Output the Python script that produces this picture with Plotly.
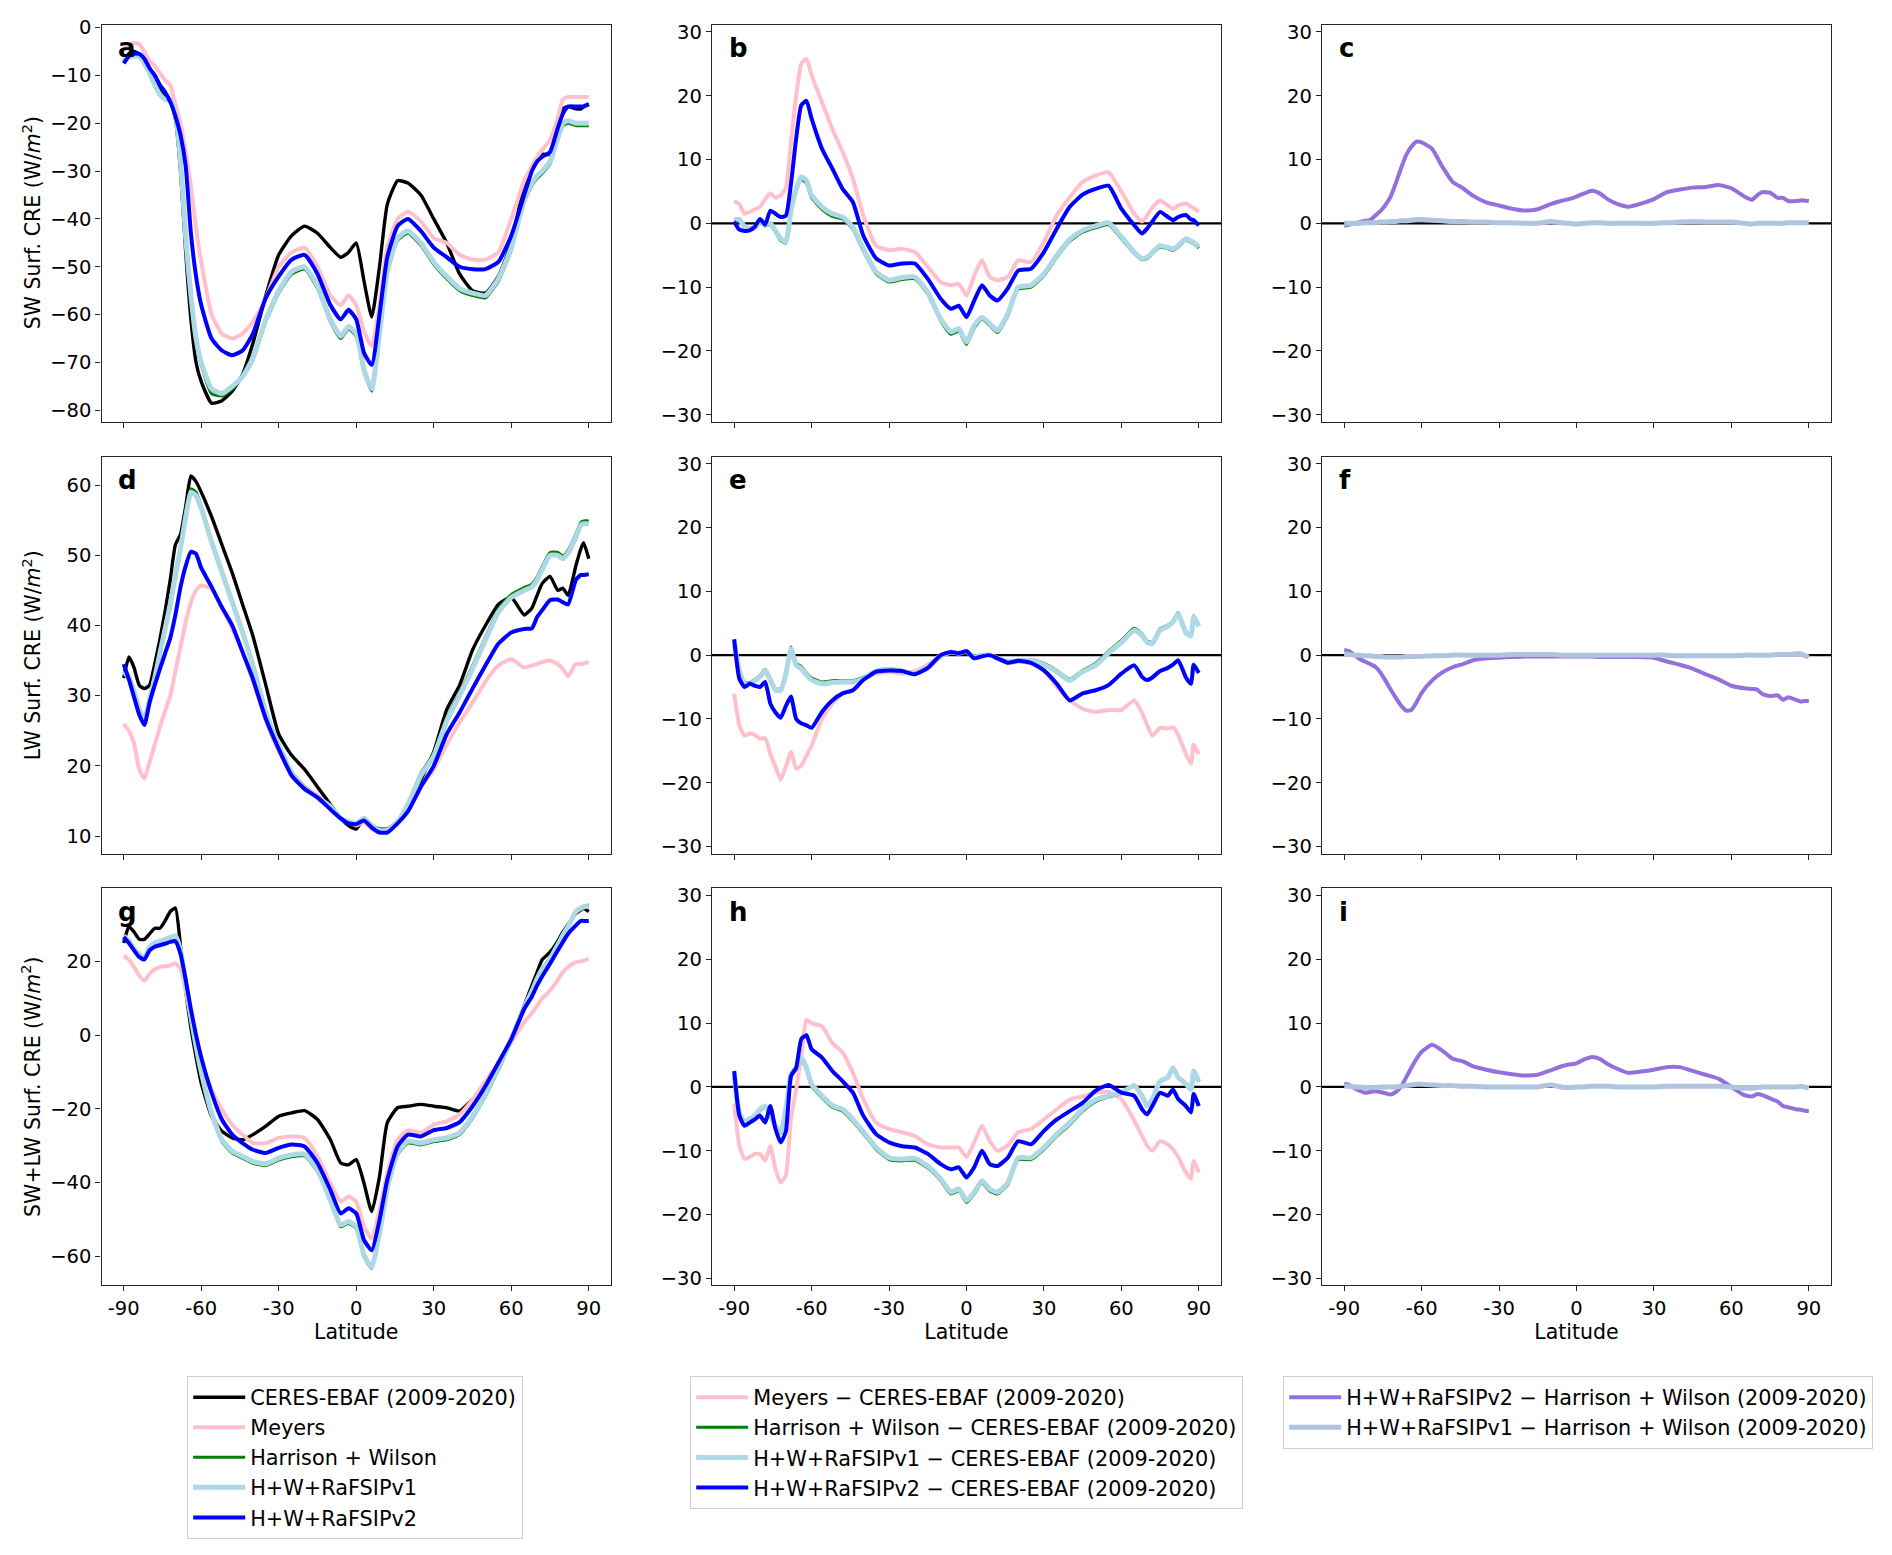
import plotly.graph_objects as go

# ---------------- data ----------------
LAT = [-90, -88, -86, -84, -82, -80, -78, -76, -74, -72,
       -70, -68, -66, -64, -62, -60, -56, -52, -48, -44,
       -40, -35, -30, -25, -20, -15, -10, -6, -3, 0,
       3, 6, 9, 12, 16, 20, 25, 30, 35, 40,
       45, 50, 55, 60, 65, 68, 70, 72, 75, 78,
       80, 82, 85, 87, 88, 90]

# panel a: SW surface CRE
SW_CERES = [-7, -5.5, -5, -5.5, -7, -8.5, -11, -13, -14, -15,
            -19, -30, -47, -61, -70, -74, -78.5, -78, -76, -72.5,
            -66, -56, -47.5, -43.5, -41.5, -43, -46, -48, -47, -45,
            -53, -60.5, -50, -37, -32, -32.5, -35, -40, -45, -51.5,
            -55, -55.5, -52, -45, -33, -29, -27.5, -26.5, -26.5, -20,
            -17, -16.5, -17, -17, -16.5, -16]
SW_MEYERS = [-4, -3.5, -3.3, -3.5, -5, -7, -8, -9.5, -11, -12,
             -16, -20, -26, -33, -42, -49, -60, -64, -65, -64,
             -61.5, -56.5, -50, -47, -46, -50, -56, -58, -56, -58,
             -63.5, -66.5, -58, -46, -40, -38.5, -40.5, -44, -45, -47.5,
             -48.5, -48.5, -47, -40, -32, -29, -27, -25.5, -23.5, -19,
             -15, -14.5, -14.5, -14.5, -14.5, -14.5]
SW_HW = [-7, -6, -6, -6, -7.5, -9.5, -12, -14, -15, -15.5,
         -18.5, -28.5, -44.5, -56.5, -65.5, -70.5, -76.5, -77, -75.5, -73,
         -69.5, -61.5, -55.5, -51.5, -50.5, -54.5, -61.5, -65, -63, -64.5,
         -72, -76, -64.5, -51.5, -44.5, -43, -45.5, -49.5, -52.5, -55,
         -56, -56.5, -53, -46.5, -36.5, -33, -31.5, -30.5, -28.5, -23.5,
         -20.5, -20, -20.5, -20.5, -20.5, -20.5]
SW_V1 = [-7, -6, -6, -6, -7.5, -9.5, -12, -14, -15, -15,
         -18, -28, -44, -56, -65, -70, -75.5, -76.5, -75, -73,
         -69, -61, -55, -51, -50, -54, -61, -64.5, -62.5, -64,
         -71.5, -75.5, -64, -51, -44, -42.5, -45, -49, -52, -54.5,
         -55.5, -56, -52.5, -46, -36, -32.5, -31, -30, -28, -23,
         -20, -19.5, -20, -20, -20, -20]
SW_V2 = [-7.5, -6, -5.5, -5.5, -6.5, -8.5, -10, -12, -13.5, -15.5,
         -18.5, -22.5, -29, -43, -52, -58, -65, -67.5, -68.5, -67.5,
         -64, -56.5, -52, -48.5, -47.5, -51.5, -58, -61, -59, -61,
         -68, -70.5, -60, -48, -41.5, -40, -42.5, -46, -48, -50,
         -50.5, -50.5, -49, -43.5, -35, -30, -28, -27, -26, -21,
         -18, -16.5, -16.5, -16.5, -16.5, -16]

# panel d: LW surface CRE
LW_CERES = [32.5, 35.5, 34, 31.5, 31, 31.5, 34.5, 38, 42, 46.5,
            51.5, 53, 57, 61.3, 60.5, 59, 55.5, 51.5, 47.5, 43,
            38.5, 31.5, 24.5, 21.5, 19.5, 17, 14.5, 12.5, 11.5, 11,
            12.5, 11.5, 11, 11, 12, 14, 18, 22, 28, 31.5,
            36.5, 40, 43, 44, 41.5, 42.5, 44.3, 46, 47, 45,
            45.3, 44.3, 48.5, 51, 51.8, 49.5]
LW_MEYERS = [26, 25, 23.2, 19.5, 18.2, 20.5, 23, 25.5, 27.8, 30,
             33.5, 37, 40.5, 43.3, 45, 45.7, 45.2, 42.5, 39.5, 36.2,
             32, 26.5, 22, 19, 17, 15.8, 14, 12.5, 12, 11.5,
             12, 11, 10.5, 10.8, 12, 13.8, 17, 19.5, 23, 26.2,
             29, 32, 34.3, 35.2, 34, 34.3, 34.5, 34.8, 35, 34.5,
             33.8, 32.8, 34.5, 34.5, 34.6, 34.8]
LW_HW = [33.8, 32.8, 30.8, 28.3, 26.8, 29.8, 32.8, 36.3, 39.8, 43.3,
         47.3, 51.3, 55.8, 59.5, 59, 57, 52.2, 47.9, 43.6, 39.3,
         34.6, 27.9, 23.1, 19.2, 17, 15.6, 14.3, 12.6, 12.1, 11.9,
         12.6, 11.6, 10.9, 10.9, 12.1, 14.7, 18.9, 21.8, 26.8, 30.4,
         34.2, 38.3, 42.3, 44.4, 45.4, 45.9, 46.9, 48.4, 50.4, 50.4,
         49.9, 50.7, 53, 54.7, 54.9, 54.9]
LW_V1 = [33.5, 32.5, 30.5, 28, 26.5, 29.5, 32.5, 36, 39.5, 43,
         47, 51, 55.5, 59, 58.5, 56.7, 51.9, 47.6, 43.3, 39,
         34.3, 27.6, 22.9, 19, 16.8, 15.5, 14.2, 12.5, 12, 11.8,
         12.5, 11.5, 10.8, 10.8, 12, 14.5, 18.6, 21.4, 26.4, 30,
         33.8, 37.9, 41.9, 44, 45, 45.5, 46.5, 48, 50, 50,
         49.5, 50.3, 52.6, 54.3, 54.5, 54.5]
LW_V2 = [34.5, 32.3, 29.8, 27.3, 25.8, 29, 31.5, 33.8, 36, 38.2,
         41.5, 45.5, 48.5, 50.5, 50.2, 48.2, 45.5, 42.6, 40, 36.2,
         32.4, 26.7, 22.4, 18.6, 16.7, 15.5, 13.8, 12.5, 11.8, 11.7,
         12.2, 11.2, 10.5, 10.5, 11.8, 13.5, 17, 20, 24.5, 27.6,
         31, 34.3, 37.4, 39, 39.5, 39.6, 41.2, 42.2, 43.6, 43.7,
         43.3, 43, 46.5, 47.2, 47.2, 47.3]

# panel g: SW+LW surface CRE
NET_CERES = [25, 29.5, 28, 26, 26, 27.5, 29, 29, 31, 33.5,
             34.5, 24, 12, 2, -6, -13, -22, -26.1, -27.9, -28.4,
             -27, -24.7, -22, -21.1, -20.5, -22.9, -28.4, -34.7, -35.2, -33.8,
             -40.2, -47.9, -38.4, -23.8, -19.7, -19.3, -18.8, -19.3, -19.7, -20.6,
             -17.5, -14.7, -9.3, -1.1, 8, 13.5, 17.1, 20.5, 22.5, 25.5,
             28, 30, 33, 34, 34.4, 33.5]
NET_MEYERS = [21.6, 20.5, 18.5, 16.2, 14.8, 16.6, 17.8, 18.5, 18.7, 18.9,
              19.5, 18, 12, 5, -1, -7, -14.7, -20.2, -24.3, -27,
              -29.3, -29.3, -27.9, -27.5, -27.9, -32.9, -40.2, -45.2, -43.8, -45.2,
              -52, -55.2, -47.5, -37.5, -28.4, -25.8, -26.5, -24.3, -23.4, -21.5,
              -17.5, -12.5, -7.5, -2, 3.5, 6, 8, 10, 12.1, 15,
              17.1, 18.5, 19.8, 20, 20.2, 20.7]
NET_HW = [26.8, 25.3, 23.3, 21.8, 20.8, 23.8, 24.8, 25.3, 25.8, 26.3,
          26.8, 22.8, 13.6, 4.5, -3.5, -10.5, -21.6, -28.9, -32, -33.4,
          -34.8, -35.4, -33.9, -33, -32.8, -37, -45.2, -52, -51.1, -52.5,
          -60.2, -63.3, -54.3, -42, -32.5, -29.3, -29.8, -28.9, -28.4, -27,
          -22.5, -16.6, -9.3, -1.4, 7.3, 11.8, 15.1, 17.8, 20.5, 24.3,
          26.9, 29.3, 33.4, 34.6, 35, 35.3]
NET_V1 = [27, 25.5, 23.5, 22, 21, 24, 25, 25.5, 26, 26.5,
          27, 23, 14, 5, -3, -10, -21.1, -28.4, -31.5, -32.9,
          -34.3, -34.9, -33.4, -32.5, -32.3, -36.5, -44.7, -51.5, -50.6, -52,
          -59.7, -62.9, -53.8, -41.5, -32, -28.8, -29.3, -28.4, -27.9, -26.5,
          -22, -16.1, -8.8, -1.1, 7.5, 12, 15.3, 18, 20.7, 24.5,
          27.1, 29.5, 33.5, 34.5, 34.8, 35.1]
NET_V2 = [26.6, 25, 23, 21.2, 20.5, 23, 24, 24.4, 24.8, 25.3,
          25.5, 22, 15, 7, 0, -6, -15.6, -22.9, -27, -29.3,
          -31.1, -32, -30.6, -29.7, -30.2, -34.7, -42, -48.4, -47, -48.4,
          -55.6, -58.4, -50.2, -39.3, -30.2, -27, -27.5, -25.8, -25.2, -23.6,
          -19.3, -13.8, -7.5, -1.1, 7.1, 10.5, 13.5, 16, 19.4, 23,
          25.3, 27.5, 29.8, 31, 31, 31]

# panel b: SW differences from CERES-EBAF
DSW_MEYERS = [3.5, 3, 1.5, 1.8, 2.2, 2.6, 3.8, 4.7, 4, 4.4,
              5.5, 12.8, 20, 25, 25.8, 23.2, 19, 14.8, 11.2, 7,
              1.3, -3.5, -4.2, -4, -4.5, -6.8, -9.2, -9.7, -9.5, -11.3,
              -8.2, -5.8, -8.4, -8.9, -8.4, -5.8, -6.1, -2.9, 1.3, 4.1,
              6.5, 7.5, 8, 5, 1.5, 0.3, 1.2, 2.5, 3.6, 2.8,
              2.3, 2.8, 3.1, 2.6, 2.4, 1.8]
DSW_HW = [0.6, 0.7, -0.6, -0.9, -0.8, 0.2, -0.4, -0.2, -1.4, -2.7,
          -3.1, 1.6, 5, 6.9, 6.3, 4, 2.2, 1.1, 0.7, -0.9,
          -4.3, -7.9, -9.2, -8.8, -8.7, -11.1, -15.3, -17.4, -16.9, -19,
          -16.4, -15, -16, -17.1, -14.5, -10.3, -10, -8.2, -5.3, -2.8,
          -1.4, -0.7, -0.2, -2.4, -4.7, -5.7, -5.5, -4.7, -3.7, -4,
          -4.2, -3.7, -2.6, -3, -3.2, -3.9]
DSW_V1 = [0.5, 0.6, -0.5, -0.8, -0.7, 0.3, -0.2, 0, -1.2, -2.4,
          -2.9, 2, 5.4, 7.3, 6.7, 4.4, 2.6, 1.5, 1, -0.6,
          -4, -7.6, -8.9, -8.5, -8.4, -10.8, -15, -17, -16.5, -18.6,
          -16, -14.7, -15.7, -16.8, -14.2, -10, -9.7, -7.9, -5, -2.5,
          -1.1, -0.4, 0.1, -2.1, -4.5, -5.5, -5.3, -4.5, -3.5, -3.8,
          -4, -3.5, -2.4, -2.8, -3, -3.7]
DSW_V2 = [0.3, -1, -1.2, -1.1, -0.5, 0.7, -0.2, 2, 1.5, 1,
          1.2, 6.2, 13.3, 18.5, 19.2, 16.4, 11.7, 8.6, 5.4, 3.3,
          -1.9, -5.5, -6.6, -6.3, -6.3, -8.7, -11.8, -13.4, -12.9, -14.7,
          -12.1, -9.7, -11.3, -12.1, -10.2, -7.4, -7.1, -4.5, -0.8, 2.6,
          4.5, 5.4, 5.9, 2.3, -0.3, -1.6, -0.8, 0.3, 1.8, 1,
          0.5, 1, 1.3, 0.6, 0.5, -0.3]

# panel e: LW differences from CERES-EBAF
DLW_MEYERS = [-6, -11, -12.6, -12.3, -12.5, -13.1, -13, -15.5, -17.5, -19.5,
              -17.5, -15.2, -17.8, -17.3, -15.8, -14.2, -10, -7.6, -6, -5.5,
              -3.9, -2.9, -2.6, -2.9, -2.5, -1.5, 0, 0.5, 0.4, 0.5,
              -0.5, 0, 0, -0.5, -1.3, -1, -1.3, -2.4, -5, -7.1,
              -8.4, -8.9, -8.6, -8.6, -7.1, -9, -11, -12.6, -11.4, -11.5,
              -11.3, -12.5, -15.5, -17, -14, -15.5]
DLW_HW = [2.2, -2.3, -4.3, -4.3, -3.8, -3.2, -2.2, -3.7, -5.3, -5.3,
          -2.8, 1.3, -1.3, -1.8, -2.8, -3.6, -4.2, -4, -4, -4,
          -3.5, -2.4, -2.1, -2.4, -2.8, -1.9, -0.1, 0.5, 0.3, 0.6,
          -0.3, 0, 0, -0.5, -0.9, -0.8, -0.7, -1.3, -2.4, -3.8,
          -2.4, -1.3, 0.6, 2.3, 4.2, 3.3, 2.2, 2, 4.1, 4.7,
          5.4, 6.7, 3.7, 3.2, 6.2, 4.7]
DLW_V1 = [2, -2.5, -4.5, -4.5, -4, -3.4, -2.4, -3.9, -5.5, -5.5,
          -3, 1, -1.6, -2.1, -3.1, -3.9, -4.5, -4.3, -4.2, -4.2,
          -3.7, -2.5, -2.2, -2.5, -2.9, -2, -0.2, 0.5, 0.3, 0.6,
          -0.3, 0, 0, -0.5, -1, -0.9, -0.8, -1.5, -2.6, -4,
          -2.6, -1.6, 0.3, 2, 3.9, 3.1, 2, 1.8, 3.9, 4.5,
          5.2, 6.5, 3.5, 3, 6, 4.5]
DLW_V2 = [2.5, -3.7, -5, -4.5, -4.8, -5, -4.2, -7.6, -9, -9.8,
          -8, -6.5, -10, -10.7, -11, -11.4, -8.9, -7.1, -6, -5.5,
          -3.9, -2.6, -2.4, -2.5, -3, -2, 0, 0.5, 0.3, 0.6,
          -0.5, -0.2, 0, -0.5, -1.2, -0.9, -1.2, -2.4, -4.5, -7.1,
          -6, -5.5, -4.7, -2.9, -1.6, -3.4, -3.9, -3.5, -2.5, -2,
          -1.5, -0.8, -3.5, -4.5, -1.5, -2.8]

# panel h: SW+LW differences from CERES-EBAF
DNET_MEYERS = [-2.6, -9.2, -11.3, -11, -10.5, -10.5, -11.5, -9.3, -12.9, -15,
               -13.9, -5, -0.4, 4.9, 10.5, 10, 9.5, 6.9, 5.4, 2.2,
               -1.9, -5.6, -6.6, -7.1, -7.7, -9, -9.5, -9.5, -9.5, -11,
               -8.7, -6.1, -8.5, -10, -9.2, -7.1, -6.6, -5.1, -3.5, -2,
               -1.5, -0.9, -0.8, -1.9, -5.3, -7.7, -9.2, -10, -8.5, -9,
               -9.8, -11, -13.4, -14.4, -11.6, -13.4]
DNET_HW = [2, -4.2, -5.7, -5.2, -4.7, -3.7, -3.2, -4.7, -6.3, -7.3,
           -3.8, 1.7, 2.7, 4.3, 2.7, 0.1, -1.7, -3.2, -3.8, -5.4,
           -7.3, -9.8, -11.4, -11.6, -11.5, -12.7, -14.7, -16.8, -16.3, -18.1,
           -16.8, -15, -16.3, -16.8, -15.3, -11.4, -11.4, -9.8, -7.7, -5.9,
           -3.8, -2.3, -1.6, -1, 0.3, -1.4, -3, -1.9, 0.9, 1.5,
           3, 1.5, 0.5, -0.4, 2.5, 0.8]
DNET_V1 = [2, -4, -5.5, -5, -4.5, -3.5, -3, -4.5, -6.1, -7.1,
           -3.5, 2, 3, 4.6, 3, 0.4, -1.4, -2.9, -3.5, -5.1,
           -7, -9.5, -11.1, -11.3, -11.2, -12.4, -14.4, -16.5, -16, -17.8,
           -16.5, -14.7, -16, -16.5, -15, -11.1, -11.1, -9.5, -7.4, -5.6,
           -3.5, -2, -1.4, -0.9, 0.2, -1.4, -3, -1.9, 0.9, 1.5,
           3, 1.5, 0.5, -0.4, 2.5, 0.8]
DNET_V2 = [2.5, -4.5, -6.1, -5.6, -5.1, -4.5, -5.6, -3, -6.6, -8.7,
           -7, 1.7, 3, 7.5, 8.1, 5.9, 4.6, 2.5, 0.9, -0.9,
           -4.5, -7.4, -8.7, -9.3, -9.5, -10.5, -12.1, -12.9, -12.6, -14.2,
           -12.6, -10, -12.1, -12.4, -11.1, -8.5, -9, -6.9, -5.1, -3.8,
           -2.5, -0.6, 0.3, -0.9, -1.4, -3.5, -4.3, -3, -0.9, -1.4,
           -0.4, -1.9, -3, -4, -1.1, -3]

# panels c, f, i: differences from Harrison + Wilson
CSW_V2 = [-0.4, -0.2, 0, 0.2, 0.4, 0.5, 1.2, 1.9, 2.9, 4.2,
          6.3, 8.6, 10.7, 12, 12.8, 12.7, 11.7, 8.9, 6.5, 5.5,
          4.3, 3.3, 2.8, 2.3, 2, 2.2, 3, 3.5, 3.8, 4.2,
          4.7, 5.1, 4.7, 3.8, 3, 2.6, 3.1, 3.8, 4.9, 5.3,
          5.6, 5.7, 6, 5.5, 4.2, 3.7, 4.4, 4.9, 4.8, 4,
          4, 3.5, 3.5, 3.6, 3.6, 3.5]
CSW_V1 = [0, 0, 0, 0, 0.1, 0.1, 0.1, 0.2, 0.2, 0.3,
          0.3, 0.4, 0.4, 0.5, 0.6, 0.6, 0.5, 0.4, 0.3, 0.3,
          0.2, 0.2, 0.1, 0.1, 0, 0, 0.3, 0.1, 0, -0.1,
          0, 0.1, 0.1, 0, 0, 0, 0, 0, 0.1, 0.2,
          0.3, 0.2, 0.2, 0.2, 0, -0.1, 0, 0, 0, 0,
          0, 0.1, 0.1, 0.1, 0.1, 0.1]
CLW_V2 = [0.8, 0.6, 0, -0.6, -1, -1.4, -1.8, -2.7, -4, -5.4,
          -6.7, -7.9, -8.7, -8.6, -7.4, -5.9, -4, -2.7, -1.9, -1.4,
          -0.8, -0.5, -0.4, -0.3, -0.2, -0.2, -0.2, -0.2, -0.2, -0.2,
          -0.2, -0.2, -0.3, -0.3, -0.3, -0.3, -0.3, -0.4, -1, -1.5,
          -2.1, -3, -3.8, -4.8, -5.2, -5.3, -5.4, -6.1, -6.4, -6.3,
          -7, -6.6, -7, -7.3, -7.2, -7.2]
CLW_V1 = [0.2, 0.1, 0, 0, -0.1, -0.1, -0.2, -0.2, -0.3, -0.3,
          -0.3, -0.3, -0.2, -0.2, -0.2, -0.2, -0.1, -0.1, 0, 0,
          0, 0, 0, 0.1, 0.1, 0.1, 0.1, 0, 0, 0,
          0, 0, 0, 0, 0, 0, 0, 0, 0, -0.1,
          -0.1, -0.1, -0.1, -0.1, 0, 0, 0, 0, 0, 0.1,
          0.1, 0.1, 0.2, 0.2, 0, -0.3]
CNET_V2 = [0.5, 0.3, -0.2, -0.6, -0.9, -0.8, -0.7, -0.8, -1, -1.2,
           -0.8, 0, 1.5, 3, 4.4, 5.5, 6.6, 5.7, 4.4, 4,
           3.2, 2.7, 2.3, 2, 1.8, 1.9, 2.6, 3.2, 3.5, 3.7,
           4.3, 4.7, 4.4, 3.6, 2.8, 2.2, 2.4, 2.7, 3.1, 3.1,
           2.5, 1.9, 1.3, 0, -1.3, -1.5, -1.1, -1.3, -1.8, -2.3,
           -3, -3.2, -3.5, -3.6, -3.7, -3.8]
CNET_V1 = [0.1, 0.1, 0, 0, -0.1, -0.1, -0.1, 0, 0, 0,
           0, 0.1, 0.2, 0.3, 0.4, 0.4, 0.3, 0.2, 0.2, 0.1,
           0.1, 0, 0, 0, 0, 0, 0.3, 0, -0.1, 0,
           0, 0.1, 0.1, 0.1, 0, 0, 0, 0, 0.1, 0.1,
           0.1, 0.1, 0.1, 0, -0.2, -0.2, -0.1, 0, 0, 0,
           0, 0, 0, 0.1, 0, -0.2]

X_TICKS = [-90, -60, -30, 0, 30, 60, 90]
X_TICKTEXT = ["-90", "-60", "-30", "0", "30", "60", "90"]

ABS_NAMES = ["CERES-EBAF (2009-2020)", "Meyers", "Harrison + Wilson",
             "H+W+RaFSIPv1", "H+W+RaFSIPv2"]
DIFF_NAMES = ["Meyers \u2212 CERES-EBAF (2009-2020)",
              "Harrison + Wilson \u2212 CERES-EBAF (2009-2020)",
              "H+W+RaFSIPv1 \u2212 CERES-EBAF (2009-2020)",
              "H+W+RaFSIPv2 \u2212 CERES-EBAF (2009-2020)"]
HW_NAMES = ["H+W+RaFSIPv2 \u2212 Harrison + Wilson (2009-2020)",
            "H+W+RaFSIPv1 \u2212 Harrison + Wilson (2009-2020)"]
Y_TITLES = ["SW Surf. CRE (W/<i>m</i><sup>2</sup>)",
            "LW Surf. CRE (W/<i>m</i><sup>2</sup>)",
            "SW+LW Surf. CRE (W/<i>m</i><sup>2</sup>)"]
LETTERS = ["a", "b", "c", "d", "e", "f", "g", "h", "i"]

# ---------------- styles ----------------
ABS_STYLE = [("black", 3.4), ("pink", 4), ("green", 3), ("lightblue", 5), ("blue", 4)]
DIFF_STYLE = [("pink", 4), ("green", 3), ("lightblue", 5), ("blue", 4)]
HW_STYLE = [("mediumpurple", 4), ("lightsteelblue", 5)]

FONT = "DejaVu Sans"
TICK_FS = 19.5
LABEL_FS = 20.5
LEG_FS = 20.8
PAGE_W = 1892
OFF_X = 8                    # page body margin (left/right)
W = PAGE_W - 2 * OFF_X
H = 1531
TOP_REF, FIG_TOP, SY = 24, 8, 1.0077   # vertical placement calibration
COL_PX = [(101.5, 611), (712, 1221), (1322, 1831)]
ROW_PX = [(24, 422), (457, 855), (890, 1288)]
Y_RANGES = [[-82.4, 0.55], [7.5, 64.05], [-67.9, 39.8]]
DIFF_RANGE = [-31.1, 31.1]
X_RANGE = [-98.6, 98.6]
YTITLE_X_PX = 32


def fx(px):
    return (px - OFF_X) / W


def fy(py):
    return 1 - (FIG_TOP + (py - TOP_REF) * SY) / H


panels = [
    [(SW_CERES, SW_MEYERS, SW_HW, SW_V1, SW_V2),
     (DSW_MEYERS, DSW_HW, DSW_V1, DSW_V2),
     (CSW_V2, CSW_V1)],
    [(LW_CERES, LW_MEYERS, LW_HW, LW_V1, LW_V2),
     (DLW_MEYERS, DLW_HW, DLW_V1, DLW_V2),
     (CLW_V2, CLW_V1)],
    [(NET_CERES, NET_MEYERS, NET_HW, NET_V1, NET_V2),
     (DNET_MEYERS, DNET_HW, DNET_V1, DNET_V2),
     (CNET_V2, CNET_V1)],
]
names_by_col = [ABS_NAMES, DIFF_NAMES, HW_NAMES]
style_by_col = [ABS_STYLE, DIFF_STYLE, HW_STYLE]
legend_by_col = ["legend", "legend2", "legend3"]

fig = go.Figure()
layout = {}
shapes = []
annotations = []

for r in range(3):
    for c in range(3):
        k = r * 3 + c + 1
        xs = "" if k == 1 else str(k)
        xref, yref = "x" + xs, "y" + xs
        for series, name, (color, width) in zip(panels[r][c], names_by_col[c], style_by_col[c]):
            fig.add_trace(go.Scatter(
                x=LAT, y=series, mode="lines", name=name,
                line=dict(color=color, width=width, shape="spline", smoothing=0.5),
                xaxis=xref, yaxis=yref,
                showlegend=(r == 0), legend=legend_by_col[c],
            ))
        x0, x1 = COL_PX[c]
        y0, y1 = ROW_PX[r]
        axis_common = dict(
            showline=True, linecolor="#262626", linewidth=1.3, mirror=True,
            ticks="outside", ticklen=5, tickwidth=1.3, tickcolor="#262626",
            showgrid=False, zeroline=False,
            tickfont=dict(family=FONT, size=TICK_FS, color="black"),
        )
        xa = dict(axis_common, domain=[fx(x0), fx(x1)], anchor=yref,
                  range=X_RANGE, tickmode="array", tickvals=X_TICKS,
                  ticktext=X_TICKTEXT, showticklabels=(r == 2))
        if r == 2:
            xa["title"] = dict(text="Latitude", font=dict(family=FONT, size=LABEL_FS, color="black"),
                               standoff=3)
        ya = dict(axis_common, domain=[fy(y1), fy(y0)], anchor=xref)
        if c == 0:
            ya["range"] = Y_RANGES[r]
            ya["dtick"] = 20 if r == 2 else 10
            annotations.append(dict(text=Y_TITLES[r], xref="paper", yref="paper",
                                    x=fx(YTITLE_X_PX), y=fy((y0 + y1) / 2),
                                    xanchor="center", yanchor="middle", textangle=-90,
                                    showarrow=False,
                                    font=dict(family=FONT, size=LABEL_FS, color="black")))
        else:
            ya["range"] = DIFF_RANGE
            ya["dtick"] = 10
            shapes.append(dict(type="line", xref=xref + " domain", yref=yref,
                               x0=0, x1=1, y0=0, y1=0, layer="below",
                               line=dict(color="black", width=2.2)))
        layout["xaxis" + xs] = xa
        layout["yaxis" + xs] = ya
        annotations.append(dict(text="<b>%s</b>" % LETTERS[k - 1], xref=xref + " domain",
                                yref=yref + " domain", x=0.029, y=0.984,
                                xanchor="left", yanchor="top", showarrow=False,
                                font=dict(family=FONT, size=26, color="black")))

legend_common = dict(xanchor="left", yanchor="top", bgcolor="white",
                     bordercolor="#cfcfcf", borderwidth=1.2,
                     font=dict(family=FONT, size=LEG_FS, color="black"),
                     itemwidth=52, tracegroupgap=0)
layout["legend"] = dict(legend_common, x=fx(187), y=fy(1379))
layout["legend2"] = dict(legend_common, x=fx(690), y=fy(1379))
layout["legend3"] = dict(legend_common, x=fx(1283), y=fy(1379))

fig.update_layout(
    width=W, height=H, margin=dict(l=0, r=0, t=0, b=0),
    paper_bgcolor="white", plot_bgcolor="white",
    font=dict(family=FONT, size=TICK_FS, color="black"),
    shapes=shapes, annotations=annotations, **layout,
)

fig.write_html("out.html")
